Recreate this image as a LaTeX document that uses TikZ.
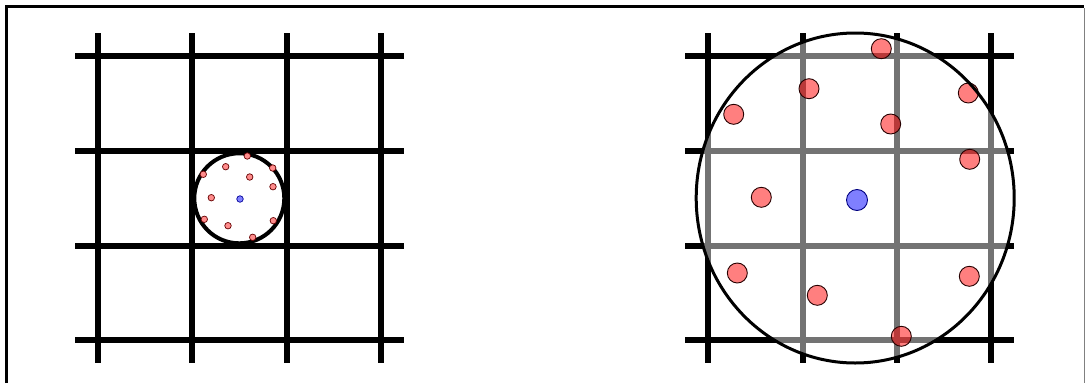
\documentclass[tikz,border=0pt]{standalone}
\begin{document}
\begin{tikzpicture}[x=1pt,y=-1pt,
  gridline/.style={line width=6pt, black},
  smalldot/.style={circle, inner sep=0pt, minimum size=6.5pt, draw=black!60!red, line width=0.7pt, fill=red!45},
  smallblue/.style={circle, inner sep=0pt, minimum size=6.5pt, draw=blue!60!black, line width=0.7pt, fill=blue!50},
  bigdot/.style={circle, inner sep=0pt, minimum size=20pt, draw=black!85!red, line width=0.9pt, fill=red, fill opacity=0.5, draw opacity=1},
  bigblue/.style={circle, inner sep=0pt, minimum size=21pt, draw=blue!50!black, line width=0.9pt, fill=blue, fill opacity=0.5, draw opacity=1}]
\useasboundingbox (0,0) rectangle (1086,383);
\fill[white] (0,0) rectangle (1086,383);
% frame
\draw[line width=3pt] (6.5,383) -- (6.5,6.5) -- (1084,6.5);
\draw[black!50, line width=1pt] (1084,8) -- (1084,383);
% left grid
\foreach \x in {98.3,192.3,286.7,381} \draw[gridline] (\x,33) -- (\x,363);
\foreach \y in {56,151,245.5,340} \draw[gridline] (75,\y) -- (404,\y);
\draw[line width=4pt, fill=white] (239.3,198.3) circle[radius=45];
\node[smalldot] (l1) at (247.3,156) {};
\node[smalldot] (l2) at (225.7,166.7) {};
\node[smalldot] (l3) at (203.3,174.3) {};
\node[smalldot] (l4) at (272.7,168) {};
\node[smalldot] (l5) at (249.7,177) {};
\node[smalldot] (l6) at (273,186.7) {};
\node[smalldot] (l7) at (211.3,197.7) {};
\node[smallblue] (lc) at (240,199) {};
\node[smalldot] (l8) at (204.3,219.3) {};
\node[smalldot] (l9) at (228,225.7) {};
\node[smalldot] (l10) at (273.3,220.7) {};
\node[smalldot] (l11) at (252.7,237.3) {};
% right grid
\foreach \x in {708.3,802.7,896.7,990.7} \draw[gridline] (\x,33) -- (\x,363);
\foreach \y in {56,151,245.5,340} \draw[gridline] (685,\y) -- (1014,\y);
\fill[white, fill opacity=0.45] (855.2,198) ellipse[x radius=159, y radius=165];
\node[bigdot] (r1) at (881.3,48.7) {};
\node[bigdot] (r2) at (809,88.7) {};
\node[bigdot] (r3) at (968.3,93) {};
\node[bigdot] (r4) at (733.7,114.3) {};
\node[bigdot] (r5) at (890.7,124) {};
\node[bigdot] (r6) at (969.7,159.3) {};
\node[bigdot] (r7) at (761.3,197.3) {};
\node[bigblue] (rc) at (857,200) {};
\node[bigdot] (r8) at (737.3,273) {};
\node[bigdot] (r9) at (817.3,295.3) {};
\node[bigdot] (r10) at (969.3,276.3) {};
\node[bigdot] (r11) at (901.3,336.3) {};
\draw[line width=3pt] (855.2,198) ellipse[x radius=159, y radius=165];
\end{tikzpicture}
\end{document}
